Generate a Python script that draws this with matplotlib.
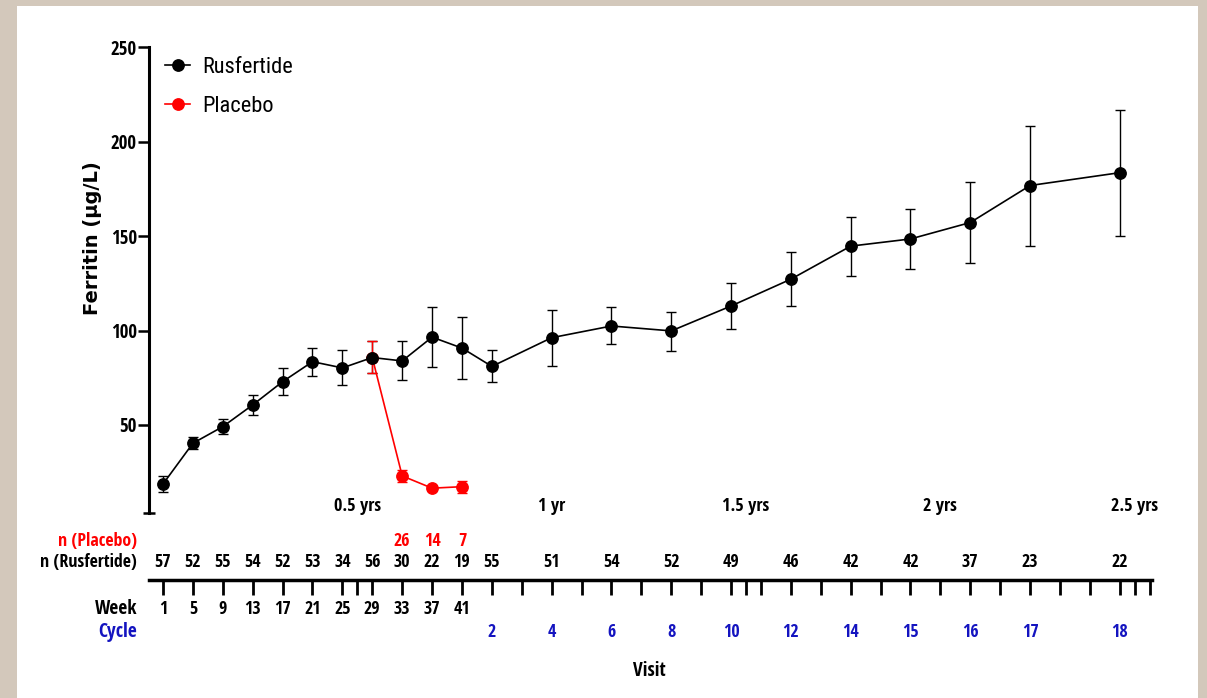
import numpy as np
import matplotlib.pyplot as plt
import matplotlib.transforms as mtransforms
from matplotlib import font_manager as fm
from matplotlib.patches import Rectangle

# visit positions (index along the time axis)
rus_x = [0, 1, 2, 3, 4, 5, 6, 7, 8, 9, 10, 11, 13, 15, 17, 19, 21, 23, 25, 27, 29, 32]
rus_mean = [18.7, 40.3, 49.1, 60.6, 72.9, 83.5, 80.2, 85.7, 83.9, 96.5, 90.7, 81.0,
            96.2, 102.4, 99.8, 113.0, 127.2, 144.7, 148.5, 157.2, 176.8, 183.6]
rus_hi = [23.0, 43.5, 53.2, 65.9, 80.0, 90.9, 89.5, 94.3, 94.5, 112.4, 107.4, 89.5,
          110.9, 112.7, 110.0, 125.1, 141.5, 160.0, 164.4, 178.9, 208.5, 216.8]
rus_lo = [14.5, 37.3, 45.1, 55.5, 65.9, 75.9, 71.2, 77.6, 73.8, 80.6, 74.2, 72.6,
          81.3, 92.7, 89.2, 101.0, 112.9, 129.1, 132.6, 136.0, 145.0, 150.1]
rus_n = [57, 52, 55, 54, 52, 53, 34, 56, 30, 22, 19, 55, 51, 54, 52, 49, 46, 42, 42, 37, 23, 22]

pbo_x = [7, 8, 9, 10]
pbo_mean = [85.7, 23.0, 16.5, 17.3]
pbo_hi = [94.3, 26.2, 17.6, 20.5]
pbo_lo = [77.6, 20.0, 15.5, 14.1]
pbo_n = [26, 14, 7]

weeks = [1, 5, 9, 13, 17, 21, 25, 29, 33, 37, 41]
cycles = [2, 4, 6, 8, 10, 12, 14, 15, 16, 17, 18]
year_x = [6.5, 13, 19.5, 26, 32.5]
year_labels = ['0.5 yrs', '1 yr', '1.5 yrs', '2 yrs', '2.5 yrs']
axis_ticks = list(range(0, 34)) + [6.5, 19.5, 32.5]

BLUE = '#1414c0'
RED = '#ff0000'
plt.rcParams['font.family'] = ['Liberation Sans', 'DejaVu Sans']


# look for a narrow / condensed face (the chart uses Arial Narrow)
def find_face(bold):
    files = [f.fname for f in fm.fontManager.ttflist]
    if bold:
        keys = ['LiberationSansNarrow-Bold.', 'NotoSans-CondensedBold.', 'OpenSans-CondBold',
                'OpenSans_Condensed-Bold.', 'RobotoCondensed-Bold', 'DejaVuSansCondensed-Bold.']
    else:
        keys = ['LiberationSansNarrow-Regular.', 'NotoSans-Condensed.', 'OpenSans_Condensed-Regular.',
                'RobotoCondensed-Regular', 'DejaVuSansCondensed.']
    for k in keys:
        for f in files:
            if k.lower() in f.lower():
                return fm.FontProperties(fname=f)
    return fm.FontProperties(family='Liberation Sans', weight='bold' if bold else 'normal')


fp_bold = find_face(True)
fp_reg = find_face(False)

W, H = 1207, 698
fig = plt.figure(figsize=(W / 100, H / 100), dpi=100)
renderer = fig.canvas.get_renderer()
fig.patches.append(Rectangle((0, 0), 1, 1, transform=fig.transFigure,
                             facecolor='#d3c8bb', edgecolor='none', zorder=-10))
fig.patches.append(Rectangle((17 / W, 0), (1198 - 17) / W, 1 - 6 / H,
                             transform=fig.transFigure, facecolor='white',
                             edgecolor='none', zorder=-9))


def fy(py):
    return 1 - py / H


def fit(fp, sample, width_px, max_size=20):
    # pick the font size whose rendered width matches the reference
    p = fp.copy()
    p.set_size(10)
    w, _, _ = renderer.get_text_width_height_descent(sample, p, ismath=False)
    p.set_size(min(max_size, 10 * width_px / w))
    return p


f_tick = fit(fp_bold, '250', 26)
f_num = fit(fp_bold, '57', 16.5)
f_row = fit(fp_bold, 'n (Rusfertide)', 97)
f_week = fit(fp_bold, 'Week', 42)
f_year = fit(fp_bold, '0.5 yrs', 47)
f_visit = fit(fp_bold, 'Visit', 33)
f_leg = fit(fp_reg, 'Rusfertide', 90)

x0, x1 = 149, 1152
xlim = (-0.468, (x1 - 163) / 29.9)
ax = fig.add_axes([x0 / W, fy(513.3), (x1 - x0) / W, fy(47.3) - fy(513.3)])
ax.set_facecolor('none')
ax.set_xlim(*xlim)
ax.set_ylim(3.2, 250)

rm = np.array(rus_mean)
pm = np.array(pbo_mean)
ax.errorbar(rus_x, rus_mean, yerr=[rm - np.array(rus_lo), np.array(rus_hi) - rm],
            fmt='none', ecolor='black', elinewidth=1.0, capsize=3.5, capthick=1.0, zorder=2)
ax.errorbar(pbo_x, pbo_mean, yerr=[pm - np.array(pbo_lo), np.array(pbo_hi) - pm],
            fmt='none', ecolor=RED, elinewidth=1.0, capsize=3.5, capthick=1.0, zorder=3)
ax.plot(pbo_x, pbo_mean, color=RED, lw=1.2, marker='o', ms=8.2, zorder=3, label='Placebo')
ax.plot(rus_x, rus_mean, color='black', lw=1.2, marker='o', ms=8.2, zorder=4, label='Rusfertide')

leg_px = f_leg.get_size() * 100 / 72
handles, labels = ax.get_legend_handles_labels()
ax.legend(handles[::-1], labels[::-1], loc='upper left',
          bbox_to_anchor=(165 / W, fy(57)), bbox_transform=fig.transFigure,
          frameon=False, handlelength=25 / leg_px, handletextpad=12 / leg_px,
          labelspacing=(40.5 - leg_px) / leg_px,
          borderaxespad=0, borderpad=0, prop=f_leg)

for s in ['top', 'right', 'bottom']:
    ax.spines[s].set_visible(False)
ax.spines['left'].set_linewidth(2.2)
ax.set_xticks([])
ax.set_yticks([50, 100, 150, 200, 250])
ax.tick_params(axis='y', length=7.7, width=1.8, pad=1)
ax.set_yticks([3.2], minor=True)
ax.tick_params(axis='y', which='minor', length=8.5, width=1.8, direction='inout')
for t in ax.get_yticklabels():
    t.set_fontproperties(f_tick)

fig.text(93 / W, fy(238), 'Ferritin (µg/L)', rotation=90, ha='center', va='center',
         fontsize=14, fontweight='bold', fontfamily='DejaVu Sans')

# timeline axis below
ax2 = fig.add_axes([x0 / W, fy(580), (x1 - x0) / W, 0.001])
ax2.set_facecolor('none')
ax2.set_xlim(*xlim)
for s in ['top', 'right', 'left']:
    ax2.spines[s].set_visible(False)
ax2.spines['bottom'].set_linewidth(2.5)
ax2.set_yticks([])
ax2.set_xticks(axis_ticks)
ax2.set_xticklabels([])
ax2.tick_params(axis='x', length=10.5, width=2.0, direction='out')

tr = mtransforms.blended_transform_factory(ax.transData, fig.transFigure)
tkw = dict(ha='center', va='center')

for x, lab in zip(year_x, year_labels):
    ax.text(x, fy(506), lab, transform=tr, fontproperties=f_year, **tkw)
for x, n in zip(pbo_x[1:], pbo_n):
    ax.text(x, fy(541), str(n), transform=tr, color=RED, fontproperties=f_num, **tkw)
for x, n in zip(rus_x, rus_n):
    ax.text(x, fy(562), str(n), transform=tr, fontproperties=f_num, **tkw)
for x, w in zip(rus_x[:len(weeks)], weeks):
    ax.text(x, fy(609), str(w), transform=tr, fontproperties=f_num, **tkw)
for x, c in zip(rus_x[len(weeks):], cycles):
    ax.text(x, fy(632), str(c), transform=tr, color=BLUE, fontproperties=f_num, **tkw)

lkw = dict(ha='right', va='center')
fig.text(137 / W, fy(541), 'n (Placebo)', color=RED, fontproperties=f_row, **lkw)
fig.text(137 / W, fy(562), 'n (Rusfertide)', fontproperties=f_row, **lkw)
fig.text(137 / W, fy(609), 'Week', fontproperties=f_week, **lkw)
fig.text(137 / W, fy(632), 'Cycle', color=BLUE, fontproperties=f_week, **lkw)
fig.text(649 / W, fy(671), 'Visit', fontproperties=f_visit, **tkw)

fig.savefig('out.png', dpi=100)
